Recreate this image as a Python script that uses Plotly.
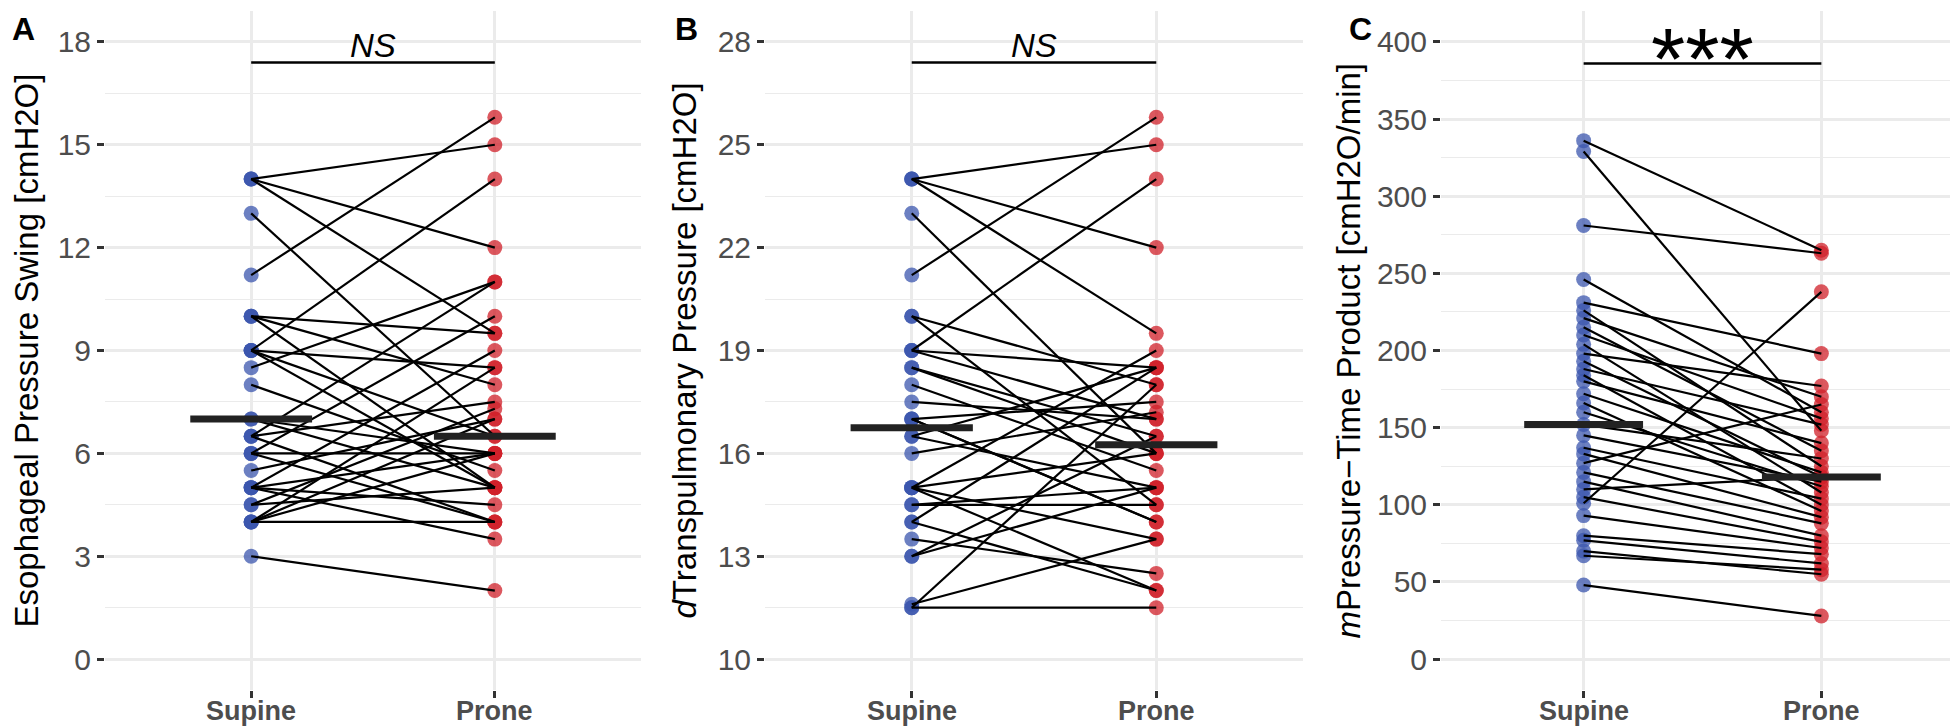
import plotly.graph_objects as go

# ---------------- data ----------------
positions = ["Supine", "Prone"]

supine_A = [14, 14, 14, 13, 11.2, 10, 10, 10, 9, 9, 9, 9, 8.5, 8, 7, 7, 6.5, 6.5, 6.5, 6, 6, 6, 5.5, 5, 5, 5, 5, 4.5, 4.5, 4, 4, 4, 4, 3]
prone_A = [15, 12, 9.5, 6.5, 15.8, 9.5, 8, 5, 14, 8.5, 5, 6.5, 11, 5.5, 6, 5, 11, 7.5, 4, 10, 6, 4, 7, 9, 6, 4.5, 3.5, 7.3, 5, 8.5, 7, 4, 6, 2]

supine_B = [24, 24, 24, 23, 21.2, 20, 20, 19, 19, 19, 18.5, 18, 17.5, 17, 17, 16.5, 16.5, 16, 15, 15, 15, 14.5, 14, 14, 13.5, 13, 13, 11.6, 11.5, 11.5, 18.5, 17, 15, 14.5]
prone_B = [25, 22, 19.5, 16, 25.8, 18, 14.5, 24, 18.5, 17, 16.5, 15.5, 17, 17.5, 14, 18.5, 15, 17.2, 19, 16, 13.5, 14.5, 18.5, 12, 12.5, 16.5, 15, 13.5, 11.5, 18, 16, 14, 12, 15]

supine_C = [336, 329, 281, 246, 231, 226, 221, 215, 210, 204, 198, 193, 188, 184, 180, 172, 166, 160, 152, 145, 137, 133, 127, 121, 115, 110, 105, 101, 93, 80, 77, 70, 67, 48]
prone_C = [265, 148, 263, 160, 198, 125, 170, 135, 156, 108, 177, 118, 152, 100, 140, 121, 96, 112, 130, 115, 104, 92, 165, 88, 80, 118, 76, 238, 72, 68, 62, 55, 58, 28]

medians_A = [7.0, 6.5]
medians_B = [16.75, 16.25]
medians_C = [152, 118]

ticks_A = [0, 3, 6, 9, 12, 15, 18]
ticks_B = [10, 13, 16, 19, 22, 25, 28]
ticks_C = [0, 50, 100, 150, 200, 250, 300, 350, 400]

signif_labels = ["<i>NS</i>", "<i>NS</i>", "***"]
bracket_y = [17.4, 27.4, 386]

titles = [
    "Esophageal Pressure Swing [cmH2O]",
    "<i>d</i>Transpulmonary Pressure [cmH2O]",
    "<i>m</i>Pressure\u2212Time Product [cmH2O/min]",
]
panel_letters = ["A", "B", "C"]

# ---------------- styling ----------------
W, H = 1958, 726
FONT = "Liberation Sans, Arial, Helvetica, sans-serif"
BLUE = "rgba(59,85,174,0.75)"
RED = "rgba(208,32,42,0.75)"
GRID = "#EBEBEB"

x_dom_px = [(97, 633), (757, 1295), (1433, 1956)]
y_top_px, y_bot_px = 3, 682
y_dom = [1 - y_bot_px / H, 1 - y_top_px / H]
title_x_px = [18, 676, 1340]
letter_x_px = [15, 678, 1352]
xlabel_y_px = 703

panels = [
    (supine_A, prone_A, medians_A, ticks_A, 1.5),
    (supine_B, prone_B, medians_B, ticks_B, 1.5),
    (supine_C, prone_C, medians_C, ticks_C, 25),
]

fig = go.Figure()
annotations = []
xcat = [1, 2]

for i, (sup, pro, med, ticks, minor_d) in enumerate(panels):
    n = i + 1
    xa = "x" if n == 1 else f"x{n}"
    ya = "y" if n == 1 else f"y{n}"

    # points
    fig.add_trace(go.Scatter(x=[xcat[0]] * len(sup), y=sup, mode="markers", xaxis=xa, yaxis=ya,
                             marker=dict(size=15, color=BLUE, line=dict(width=0)),
                             showlegend=False, hoverinfo="y"))
    fig.add_trace(go.Scatter(x=[xcat[1]] * len(pro), y=pro, mode="markers", xaxis=xa, yaxis=ya,
                             marker=dict(size=15, color=RED, line=dict(width=0)),
                             showlegend=False, hoverinfo="y"))
    # paired lines
    lx, ly = [], []
    for a, b in zip(sup, pro):
        lx += [xcat[0], xcat[1], None]
        ly += [a, b, None]
    fig.add_trace(go.Scatter(x=lx, y=ly, mode="lines", xaxis=xa, yaxis=ya,
                             line=dict(color="black", width=2.2),
                             showlegend=False, hoverinfo="skip"))
    # median bars
    for k in range(2):
        fig.add_trace(go.Scatter(x=[xcat[k] - 0.25, xcat[k] + 0.25], y=[med[k], med[k]],
                                 mode="lines", xaxis=xa, yaxis=ya,
                                 line=dict(color="#222222", width=7),
                                 showlegend=False, hoverinfo="y"))
    # significance bracket
    fig.add_trace(go.Scatter(x=xcat, y=[bracket_y[i]] * 2, mode="lines", xaxis=xa, yaxis=ya,
                             line=dict(color="black", width=2.5),
                             showlegend=False, hoverinfo="skip"))
    if signif_labels[i] == "***":
        annotations.append(dict(x=1.5, y=1.0, xref=xa, yref="paper",
                                text=signif_labels[i], showarrow=False,
                                yanchor="top", borderpad=0,
                                font=dict(family=FONT, size=88, color="black")))
    else:
        annotations.append(dict(x=1.5, y=bracket_y[i], xref=xa, yref=ya,
                                text=signif_labels[i], showarrow=False,
                                yanchor="bottom", yshift=-4,
                                font=dict(family=FONT, size=33, color="black")))

    rng = ticks[-1] - ticks[0]
    yr = [ticks[0] - 0.05 * rng, ticks[-1] + 0.05 * rng]
    x0, x1 = x_dom_px[i]
    fig.layout[f"xaxis{'' if n == 1 else n}"] = dict(
        domain=[x0 / W, x1 / W], range=[0.4, 2.6], anchor=ya,
        tickvals=xcat, showticklabels=False,
        showgrid=True, gridcolor=GRID, gridwidth=2.7, zeroline=False, showline=False,
        ticks="outside", ticklen=7, tickwidth=2.5, tickcolor="#333333", fixedrange=True,
    )
    fig.layout[f"yaxis{'' if n == 1 else n}"] = dict(
        domain=y_dom, range=yr, anchor=xa,
        tickvals=ticks, showgrid=True, gridcolor=GRID, gridwidth=2.7,
        minor=dict(dtick=minor_d, tick0=ticks[0], showgrid=True, gridcolor=GRID, gridwidth=1.4, ticks=""),
        zeroline=False, showline=False,
        ticks="outside", ticklen=7, tickwidth=2.5, tickcolor="#333333",
        tickfont=dict(family=FONT, size=30, color="#4D4D4D"), fixedrange=True,
    )
    # x category labels
    for k in range(2):
        annotations.append(dict(x=xcat[k], y=1 - xlabel_y_px / H, xref=xa, yref="paper",
                                text=f"<b>{positions[k]}</b>", showarrow=False,
                                xanchor="center", yanchor="middle",
                                font=dict(family=FONT, size=27, color="#4D4D4D")))
    # axis title
    annotations.append(dict(x=title_x_px[i] / W, y=(y_dom[0] + y_dom[1]) / 2, xref="paper", yref="paper",
                            text=titles[i], textangle=-90, showarrow=False,
                            xanchor="center", yanchor="middle",
                            font=dict(family=FONT, size=33, color="black")))
    # panel letter
    annotations.append(dict(x=letter_x_px[i] / W, y=1 - 21 / H, xref="paper", yref="paper",
                            text=f"<b>{panel_letters[i]}</b>", showarrow=False,
                            xanchor="center", yanchor="middle",
                            font=dict(family=FONT, size=32, color="black")))

fig.update_layout(
    width=W, height=H, margin=dict(l=0, r=0, t=0, b=0),
    paper_bgcolor="white", plot_bgcolor="white",
    annotations=annotations, showlegend=False,
)

fig.write_html("out.html", config={"displayModeBar": False})
